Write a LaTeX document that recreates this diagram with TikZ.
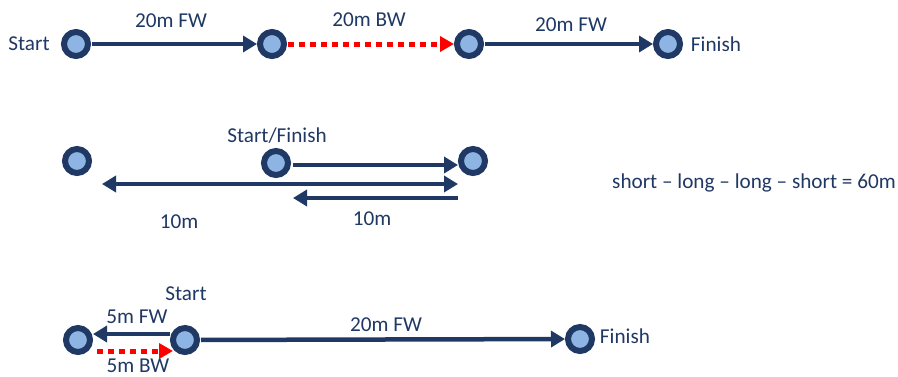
\documentclass[tikz,border=0pt]{standalone}
\usepackage{fontspec}
\setmainfont{Carlito}
\usetikzlibrary{arrows.meta,positioning}
\definecolor{navy}{RGB}{31,56,100}
\definecolor{dotblue}{RGB}{141,180,226}
\definecolor{runred}{RGB}{255,0,0}
\begin{document}
\begin{tikzpicture}[
    x=1pt, y=-1pt,
    font=\fontsize{21.2}{25}\selectfont,
    text=navy,
    stop/.style={
        circle,
        draw=navy,
        fill=dotblue,
        line width=6pt,
        minimum size=24pt,
        inner sep=0pt
    },
    lbl/.style={inner sep=0pt, anchor=base},
    fwd/.style={
        draw=navy,
        line width=4.5pt,
        -{Triangle[length=14pt,width=16pt]}
    },
    bwd/.style={
        draw=runred,
        line width=5pt,
        dash pattern=on 5.5pt off 5.5pt,
        -{Triangle[length=14pt,width=15pt]}
    }
]
\useasboundingbox (0,0) rectangle (898,376);

\node[stop] (s1) at (76,44) {};
\node[stop] (s2) at (272,44) {};
\node[stop] (s3) at (469,44) {};
\node[stop] (s4) at (668,44) {};

\node[lbl] (startA) at (29,50) {Start};
\node[lbl] (finishA) at (716,51) {Finish};
\node[lbl] (legA) at (171,27) {20m FW};
\node[lbl] (legB) at (369,26) {20m BW};
\node[lbl] (legC) at (571,31) {20m FW};

\draw[fwd, shorten <=1pt] (s1) -- (s2);
\draw[bwd, shorten <=1pt] (s2) -- (s3);
\draw[fwd, shorten <=1pt] (s3) -- (s4);

\node[stop] (p1) at (77,161) {};
\node[stop] (p2) at (276,163) {};
\node[stop] (p3) at (473,161) {};

\node[lbl] (startB) at (277,142) {Start/Finish};
\node[lbl] (tenA) at (179,228) {10m};
\node[lbl] (tenB) at (372,225) {10m};
\node[lbl] (total) at (754,188) {short – long – long – short = 60m};

\coordinate (outA) at (293,165);
\coordinate (outB) at (458,165);
\coordinate (longA) at (102,184);
\coordinate (longB) at (458,184);
\coordinate (backA) at (458,198);
\coordinate (backB) at (293,198);

\draw[fwd] (outA) -- (outB);
\draw[fwd, {Triangle[length=14pt,width=16pt]}-{Triangle[length=14pt,width=16pt]}] (longA) -- (longB);
\draw[fwd] (backA) -- (backB);

\node[stop] (q1) at (78,340) {};
\node[stop] (q2) at (185,340) {};
\node[stop] (q3) at (580,339) {};

\node[lbl] (startC) at (186,300) {Start};
\node[lbl] (fiveA) at (137,323) {5m FW};
\node[lbl] (fiveB) at (138,372) {5m BW};
\node[lbl] (legD) at (386,331) {20m FW};
\node[lbl] (finishC) at (625,343) {Finish};

\coordinate (shortA) at (170,334);
\coordinate (shortB) at (93,334);
\coordinate (redA) at (97,351);
\coordinate (redB) at (173,351);

\draw[fwd] (shortA) -- (shortB);
\draw[bwd] (redA) -- (redB);
\draw[fwd, shorten <=1pt] (q2) -- (q3);

\end{tikzpicture}
\end{document}
